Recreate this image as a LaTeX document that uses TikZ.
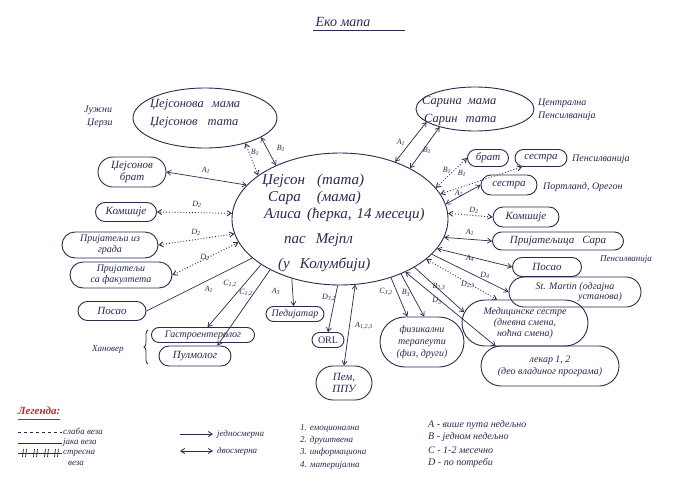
\documentclass[tikz,border=0pt]{standalone}
\usepackage{fontspec}
\setmainfont{Liberation Serif}[Script=Cyrillic,Language=Serbian]
\usetikzlibrary{shapes.geometric,shapes.misc,arrows.meta,decorations.pathreplacing}
\definecolor{inkc}{RGB}{40,42,80}
\definecolor{redc}{RGB}{190,40,45}
\begin{document}
\begin{tikzpicture}[x=1pt,y=-1pt,
  >={Straight Barb[length=4pt,width=5pt]},
  ell/.style={ellipse,draw=inkc,line width=0.9pt,inner sep=0pt},
  bx/.style={rounded rectangle,draw=inkc,line width=0.9pt,inner sep=1pt,text=inkc,
     font=\itshape\fontsize{11}{12.5}\selectfont,align=center},
  ctext/.style={text=inkc,font=\itshape\fontsize{15}{17}\selectfont,inner sep=0pt,anchor=west},
  gtext/.style={text=inkc,font=\itshape\fontsize{12.5}{18}\selectfont,inner sep=0pt,anchor=west,align=left},
  ntext/.style={text=inkc,font=\itshape\fontsize{10}{13}\selectfont,inner sep=0pt,anchor=west,align=left},
  lbl/.style={text=inkc,font=\itshape\fontsize{8}{9}\selectfont,inner sep=0pt},
  con/.style={draw=inkc,line width=0.7pt},
  dot/.style={draw=inkc,line width=0.9pt,dotted},
  legt/.style={text=inkc,font=\itshape\fontsize{9}{10}\selectfont,inner sep=0pt,anchor=west}]
\useasboundingbox[fill=white] (0,0) rectangle (689,485);

% title
\node[text=inkc,font=\itshape\fontsize{14}{16}\selectfont,inner sep=0pt] (title) at (343,22) {Еко мапа};
\draw[inkc,line width=0.9pt] (title.south west) ++(-2,4) -- ++(92,0);

% central family
\node[ell,minimum width=216pt,minimum height=132pt] (fam) at (340,219) {};
\node[ctext] (f1) at (262,181) {Џејсон\hspace{12pt}(тата)};
\node[ctext] (f2) at (268,198) {Сара\hspace{16pt}(мама)};
\node[ctext] (f3) at (264,215) {Алиса\hspace{6pt}(ћерка,\hspace{5pt}14 месеци)};
\node[ctext] (f4) at (284,240) {пас\hspace{10pt}Мејпл};
\node[ctext] (f5) at (278,265) {(у\hspace{10pt}Колумбији)};

% grandparents
\node[ell,minimum width=144pt,minimum height=60pt] (gp1) at (205,118) {};
\node[gtext] (gp1t) at (150,114) {Џејсонова\hspace{8pt}мама\\Џејсонов\hspace{10pt}тата};
\node[ntext] (nj) at (84,117) {Јужни\\\hspace{3pt}Џерзи};
\node[ell,minimum width=118pt,minimum height=44pt] (gp2) at (475,109) {};
\node[gtext] (gp2t) at (422,111) {Сарина\hspace{6pt}мама\\\hspace{2pt}Сарин\hspace{8pt}тата};
\node[ntext] (cp) at (538,110) {Централна\\Пенсилванија};

% left nodes
\node[bx,minimum width=70pt,minimum height=30pt] (jb) at (132,172) {Џејсонов\\брат};
\node[bx,minimum width=63pt,minimum height=19pt] (kL) at (126,212) {Комшије};
\node[bx,minimum width=98pt,minimum height=26pt,font=\itshape\fontsize{10}{11}\selectfont] (pg) at (110,245) {Пријатељи из\\града};
\node[bx,minimum width=104pt,minimum height=26pt,font=\itshape\fontsize{10}{11}\selectfont] (pf) at (121,275) {Пријатељи\\са факултета};
\node[bx,minimum width=70pt,minimum height=19pt] (pL) at (112,311) {Посао};
\node[bx,minimum width=105pt,minimum height=15pt,font=\itshape\fontsize{10}{11}\selectfont] (gs) at (203,335) {Гастроентеролог};
\node[bx,minimum width=74pt,minimum height=20pt] (pu) at (195,356) {Пулмолог};
\node[ntext,font=\itshape\fontsize{9}{10}\selectfont] (han) at (92,350) {Хановер};
\draw[inkc,line width=0.8pt,decorate,decoration={brace,amplitude=4pt}] (148,364) -- (148,330);

% bottom nodes
\node[bx,minimum width=60pt,minimum height=15pt,font=\itshape\fontsize{10}{11}\selectfont] (pd) at (295,314) {Педијатар};
\node[bx,minimum width=34pt,minimum height=15pt,font=\fontsize{10}{11}\selectfont] (orl) at (328,340) {ORL};
\node[bx,minimum width=58pt,minimum height=34pt] (pm) at (344,383) {Пем,\\ППУ};
\node[bx,minimum width=86pt,minimum height=50pt,font=\itshape\fontsize{10}{12}\selectfont] (ft) at (422,342) {физикални\\терапеути\\(физ,\ други)};

% right nodes
\node[bx,minimum width=43pt,minimum height=17pt] (br) at (488,158) {брат};
\node[bx,minimum width=54pt,minimum height=17pt] (s1) at (541,158) {сестра};
\node[ntext] (s1p) at (572,159) {Пенсилванија};
\node[bx,minimum width=58pt,minimum height=20pt] (s2) at (509,185) {сестра};
\node[ntext] (s2p) at (543,187) {Портланд, Орегон};
\node[bx,minimum width=68pt,minimum height=20pt] (kR) at (526,217) {Комшије};
\node[bx,minimum width=133pt,minimum height=18pt] (ps) at (558,241) {Пријатељица\hspace{8pt}Сара};
\node[ntext,font=\itshape\fontsize{9}{10}\selectfont] (psp) at (600,259) {Пенсилванија};
\node[bx,minimum width=71pt,minimum height=19pt] (pR) at (547,267) {Посао};
\node[bx,minimum width=134pt,minimum height=30pt,font=\itshape\fontsize{10}{10}\selectfont] (sm) at (575,292) {St. Martin (одгајна\\\hspace{50pt}установа)};
\node[bx,minimum width=128pt,minimum height=46pt,font=\itshape\fontsize{10}{11}\selectfont] (ms) at (525,323) {Медицинске сестре\\(дневна смена,\\ноћна смена)};
\node[bx,minimum width=140pt,minimum height=40pt,font=\itshape\fontsize{10}{11.5}\selectfont] (lk) at (550,366) {лекар 1, 2\\(део владиног програма)};

% connectors
\draw[dot,<->] (fam.152) -- (gp1.-32);
\draw[con,<->] (fam.140) -- (gp1.-19);
\draw[con,<->] (fam.46) -- (gp2.195);
\draw[con,<->] (fam.36) -- (gp2.207);
\draw[con,<->] (fam.160) -- (jb.east);
\draw[dot,<->] (fam.177) -- (kL.east);
\draw[dot,<->] (fam.188) -- (pg.east);
\draw[dot,<->] (fam.193) -- (pf.east);
\draw[con] (fam.204) -- (pL.east);
\draw[con,->] (fam.210) -- (gs.60);
\draw[con,->] (fam.216) -- (pu.25);
\draw[con,->] (fam.231) -- (pd.100);
\draw[con,->] (fam.268) -- (orl.north);
\draw[con,<->] (fam.283) -- (pm.north);
\draw[con,->] (fam.311) -- (ft.120);
\draw[con,->] (fam.318) -- (ft.85);
\draw[con,<->] (fam.321) -- (lk.160);
\draw[con,->] (fam.327) -- (ms.170);
\draw[dot,<->] (fam.335) -- (ms.140);
\draw[dot,<->] (fam.18) -- (br.west);
\draw[dot,<->] (fam.14) -- (s1.205);
\draw[con,<->] (fam.8) -- (s2.west);
\draw[dot,<->] (fam.3) -- (kR.west);
\draw[con,<->] (fam.-10) -- (ps.west);
\draw[con,<->] (fam.-17) -- (pR.west);
\draw[con,->] (fam.-21) -- (sm.west);

% connector labels
\node[lbl] (l1) at (255,152) {B\textsubscript{1}};
\node[lbl] (l2) at (281,148) {B\textsubscript{1}};
\node[lbl] (l3) at (401,142) {A\textsubscript{1}};
\node[lbl] (l4) at (427,150) {B\textsubscript{1}};
\node[lbl] (l5) at (206,170) {A\textsubscript{1}};
\node[lbl] (l6) at (197,204) {D\textsubscript{2}};
\node[lbl] (l7) at (196,232) {D\textsubscript{2}};
\node[lbl] (l8) at (205,257) {D\textsubscript{2}};
\node[lbl] (l9) at (209,289) {A\textsubscript{1}};
\node[lbl] (l10) at (230,284) {C\textsubscript{1,2}};
\node[lbl] (l11) at (246,293) {C\textsubscript{1,2}};
\node[lbl] (l12) at (276,291) {A\textsubscript{3}};
\node[lbl] (l13) at (329,298) {D\textsubscript{3,2}};
\node[lbl,anchor=west] (l14) at (355,326) {A\textsubscript{1,2,3}};
\node[lbl] (l15) at (386,292) {C\textsubscript{3,2}};
\node[lbl] (l16) at (406,293) {B\textsubscript{3}};
\node[lbl] (l17) at (439,287) {B\textsubscript{2,3}};
\node[lbl] (l18) at (468,285) {D\textsubscript{2,3}};
\node[lbl] (l19) at (437,301) {D\textsubscript{3}};
\node[lbl] (l20) at (447,170) {B\textsubscript{1}};
\node[lbl] (l21) at (462,173) {B\textsubscript{1}};
\node[lbl] (l22) at (459,193) {A\textsubscript{2}};
\node[lbl] (l23) at (474,210) {D\textsubscript{2}};
\node[lbl] (l24) at (470,232) {A\textsubscript{1}};
\node[lbl] (l25) at (470,258) {A\textsubscript{4}};
\node[lbl] (l26) at (485,275) {D\textsubscript{4}};

% legend
\node[text=redc,font=\itshape\bfseries\fontsize{11}{12}\selectfont,inner sep=0pt,anchor=west] (leg) at (18,411) {Легенда:};
\draw[redc,line width=0.9pt] (18,419) -- (60,419);
\coordinate (d1) at (18,432); \coordinate (d2) at (62,432);
\draw[inkc,line width=0.8pt,dashed] (d1) -- (d2);
\node[legt] (lt1) at (63,431) {слаба веза};
\coordinate (s1a) at (18,443); \coordinate (s1b) at (62,443);
\draw[inkc,line width=0.8pt] (s1a) -- (s1b);
\node[legt] (lt2) at (63,442) {јака веза};
\coordinate (h1) at (18,453); \coordinate (h2) at (62,453);
\draw[inkc,line width=0.8pt] (h1) -- (h2);
\foreach \xx in {24,35,46,56}{
  \draw[inkc,line width=0.7pt] (\xx-1.5,457) -- (\xx-0.5,449);
  \draw[inkc,line width=0.7pt] (\xx+1.5,457) -- (\xx+2.5,449);
}
\node[legt] (lt3) at (63,453) {стресна};
\node[legt] (lt3b) at (68,463) {веза};
\coordinate (a1) at (180,434); \coordinate (a2) at (213,434);
\draw[inkc,line width=0.8pt,->] (a1) -- (a2);
\node[legt] (lt4) at (217,434) {једносмерна};
\coordinate (b1) at (180,451); \coordinate (b2) at (213,451);
\draw[inkc,line width=0.8pt,<->] (b1) -- (b2);
\node[legt] (lt5) at (217,451) {двосмерна};
\node[legt] (n1) at (300,428) {1. емоционална};
\node[legt] (n2) at (300,440) {2. друштвена};
\node[legt] (n3) at (300,452) {3. информациона};
\node[legt] (n4) at (300,465) {4. материјална};
\node[legt,font=\itshape\fontsize{10}{11}\selectfont] (r1) at (428,425) {A - више пута недељно};
\node[legt,font=\itshape\fontsize{10}{11}\selectfont] (r2) at (428,437) {B - једном недељно};
\node[legt,font=\itshape\fontsize{10}{11}\selectfont] (r3) at (428,450) {C - 1-2 месечно};
\node[legt,font=\itshape\fontsize{10}{11}\selectfont] (r4) at (428,463) {D - по потреби};
\end{tikzpicture}
\end{document}
